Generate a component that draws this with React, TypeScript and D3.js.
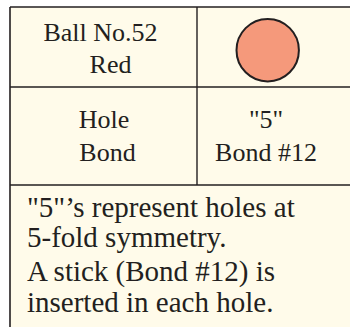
import React from "react";
import * as d3 from "d3";

const leftColumnLines: string[][] = [["Ball No.52", "Red"], ["Hole", "Bond"]];
const rightColumnLines: string[][] = [[], ["\"5\"", "Bond #12"]];
const ballColor = ["Red"];
const noteLines: string[] = [
  "\"5\"\u2019s represent holes at",
  "5-fold symmetry.",
  "A stick (Bond #12) is",
  "inserted in each hole.",
];

const W = 350;
const H = 327;
const SERIF = "Liberation Serif, Tinos, Times New Roman, Times, DejaVu Serif, serif";

export default function App() {
  const x0 = 10;
  const y0 = 7;
  const xDiv = 197;
  const rowEdges = [y0, 87, 185];
  const ink = "#231f20";
  const fill = "#fffbea";

  const leftCenters = [
    [100.5, 110.5],
    [104, 107.5],
  ];
  const rightCenters = [266, 266];
  const rowBaselines = [
    [40.7, 72.7],
    [128.3, 160.5],
  ];
  const noteBaselines = [216.7, 247, 280.7, 311.7];
  const noteX = 27;

  const circleScale = d3.scaleLinear().domain([0, 1]).range([rowEdges[0], rowEdges[1]]);
  const cy = circleScale(0.54);

  return (
    <div style={{ position: "fixed", left: 0, top: 0, width: W, height: H }}>
      <svg width={W} height={H} style={{ display: "block" }}>
        <rect x={0} y={0} width={W} height={H} fill="#ffffff" />
        <rect x={x0} y={y0} width={W - x0} height={H - y0} fill={fill} />
        <line x1={x0} x2={W} y1={y0} y2={y0} stroke={ink} strokeWidth={1.6} />
        <line x1={x0} x2={x0} y1={y0} y2={H} stroke={ink} strokeWidth={1.6} />
        <line x1={x0} x2={W} y1={rowEdges[1]} y2={rowEdges[1]} stroke={ink} strokeWidth={1.4} />
        <line x1={x0} x2={W} y1={rowEdges[2]} y2={rowEdges[2]} stroke={ink} strokeWidth={1.4} />
        <line x1={xDiv} x2={xDiv} y1={y0} y2={rowEdges[2]} stroke={ink} strokeWidth={1.4} />

        <g style={{ fontFamily: SERIF, fontSize: "26px" }} fill={ink}>
          {leftColumnLines.map((lines, r) =>
            lines.map((t, i) => (
              <text key={`l${r}${i}`} x={leftCenters[r][i]} y={rowBaselines[r][i]} textAnchor="middle">
                {t}
              </text>
            ))
          )}
          {rightColumnLines.map((lines, r) =>
            lines.map((t, i) => (
              <text key={`r${r}${i}`} x={rightCenters[i]} y={rowBaselines[r][i]} textAnchor="middle">
                {t}
              </text>
            ))
          )}
        </g>

        {ballColor.map((c) => (
          <circle key={c} cx={267.7} cy={cy} r={31.2} fill="#f5997b" stroke={ink} strokeWidth={2} />
        ))}

        <g style={{ fontFamily: SERIF, fontSize: "29px" }} fill={ink}>
          {noteLines.map((t, i) => (
            <text key={i} x={noteX} y={noteBaselines[i]}>
              {t}
            </text>
          ))}
        </g>
      </svg>
    </div>
  );
}
